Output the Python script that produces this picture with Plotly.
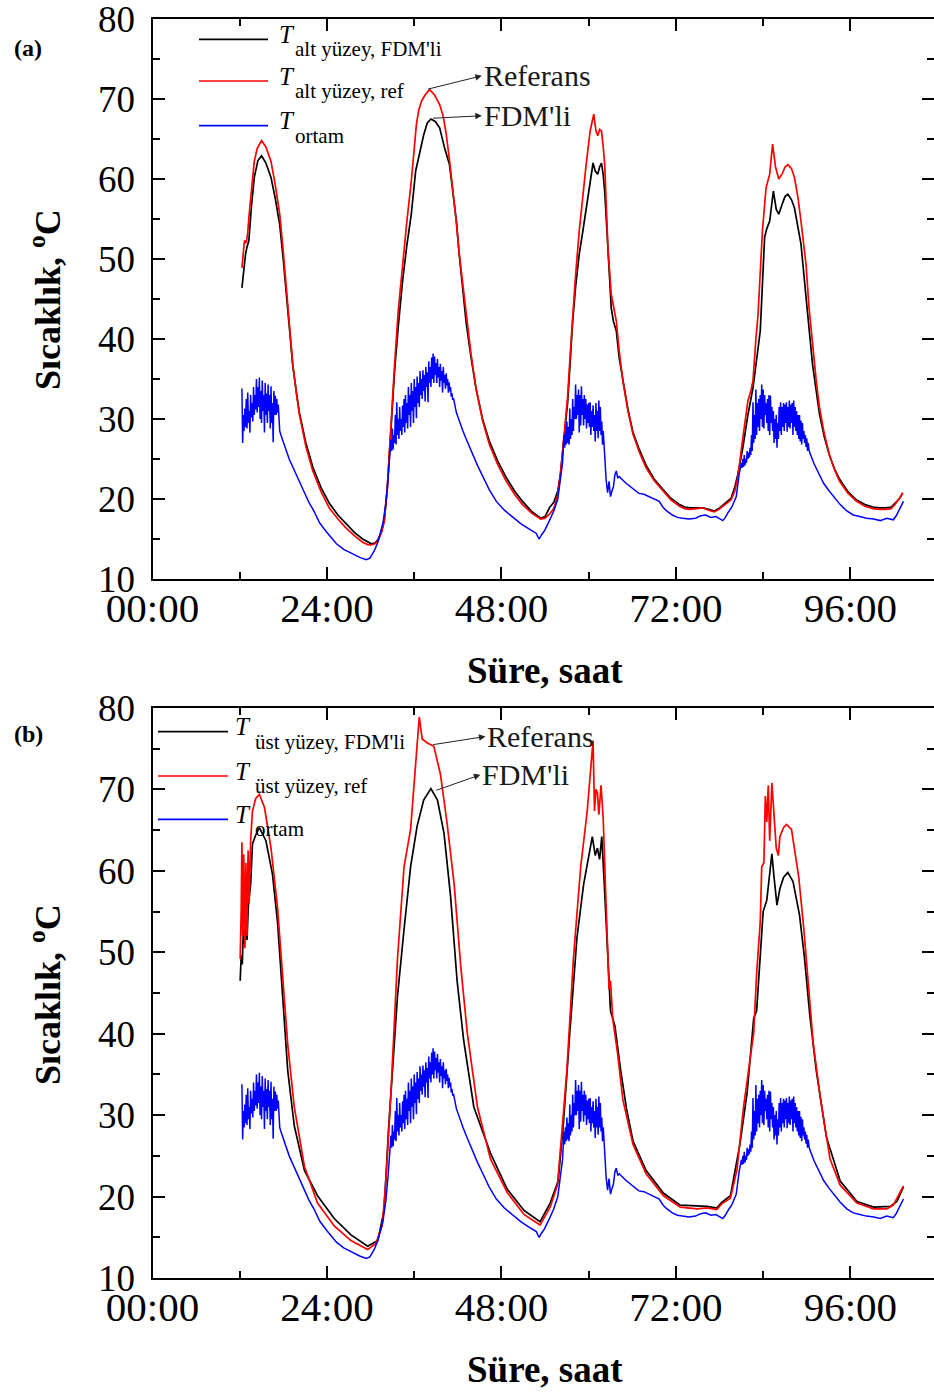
import plotly.graph_objects as go

W, H = 934, 1394

# ---------------- data (time in hours, temperature in °C) ----------------
amb_t = [12.3, 12.4, 12.5, 12.6, 12.7, 12.8, 12.9, 13.0, 13.1, 13.2, 13.3, 13.4, 13.5, 13.6,
         13.7, 13.8, 13.9, 14.0, 14.1, 14.2, 14.3, 14.4, 14.5, 14.6, 14.7, 14.8, 14.9, 15.0,
         15.1, 15.2, 15.3, 15.4, 15.5, 15.6, 15.7, 15.8, 15.9, 16.0, 16.1, 16.2, 16.3, 16.4,
         16.5, 16.6, 16.7, 16.8, 16.9, 17.0, 17.1, 17.2, 17.3, 17.4, 17.5,
         17.7, 18.8, 19.8, 20.7, 21.5, 22.2, 23.0, 24.0, 25.3, 26.3, 27.5, 28.5, 29.4, 29.9,
         30.5, 31.0, 31.7, 32.1, 32.4, 32.7,
         32.8, 32.9, 33.0, 33.1, 33.2, 33.3, 33.4, 33.5, 33.6, 33.7, 33.8, 33.9, 34.0, 34.1,
         34.2, 34.3, 34.4, 34.5, 34.6, 34.7, 34.8, 34.9, 35.0, 35.1, 35.2, 35.3, 35.4, 35.5,
         35.6, 35.7, 35.8, 35.9, 36.0, 36.1, 36.2, 36.3, 36.4, 36.5, 36.6, 36.7, 36.8, 36.9,
         37.0, 37.1, 37.2, 37.3, 37.4, 37.5, 37.6, 37.7, 37.8, 37.9, 38.0, 38.1, 38.2, 38.3,
         38.4, 38.5, 38.6, 38.7, 38.8, 38.9, 39.0, 39.1, 39.2, 39.3, 39.4, 39.5, 39.6, 39.7,
         39.8, 39.9, 40.0, 40.1, 40.2, 40.3, 40.4, 40.5, 40.6, 40.7, 40.8, 40.9, 41.0, 41.1,
         41.2, 41.3, 41.4,
         41.8, 42.2, 42.7, 43.15, 43.6, 44.1, 44.7, 45.4, 46.3, 47.3, 48.4, 49.6, 50.7, 51.9,
         52.4, 52.8, 53.0, 53.2, 53.5, 53.9, 54.6, 55.2, 55.75, 56.0, 56.4,
         56.6, 56.7, 56.8, 56.9, 57.0, 57.1, 57.2, 57.3, 57.4, 57.5, 57.6, 57.7, 57.8, 57.9,
         58.0, 58.1, 58.2, 58.3, 58.4, 58.5, 58.6, 58.7, 58.8, 58.9, 59.0, 59.1, 59.2, 59.3,
         59.4, 59.5, 59.6, 59.7, 59.8, 59.9, 60.0, 60.1, 60.2, 60.3, 60.4, 60.5, 60.6, 60.7,
         60.8, 60.9, 61.0, 61.1, 61.2, 61.3, 61.4, 61.5, 61.6, 61.7, 61.8, 61.9, 62.0, 62.1,
         62.2, 62.4, 62.6, 62.8, 63.0, 63.2, 63.4, 63.6, 63.8, 64.0, 64.2,
         65.1, 66.0, 66.9, 67.6, 68.3, 69.0, 69.7, 70.2, 70.6, 71.5, 72.2, 72.9, 73.8, 74.7,
         75.4, 76.1, 76.8, 77.5, 78.0, 78.45, 78.8, 79.1, 79.7, 80.3, 80.7,
         81.0, 81.1, 81.2, 81.3, 81.4, 81.5, 81.6, 81.7, 81.8, 81.9, 82.0, 82.1, 82.2, 82.3,
         82.4, 82.5, 82.6, 82.7, 82.8, 82.9, 83.0, 83.1, 83.2, 83.3, 83.4, 83.5, 83.6, 83.7,
         83.8, 83.9, 84.0, 84.1, 84.2, 84.3, 84.4, 84.5, 84.6, 84.7, 84.8, 84.9, 85.0, 85.1,
         85.2, 85.3, 85.4, 85.5, 85.6, 85.7, 85.8, 85.9, 86.0, 86.1, 86.2, 86.3, 86.4, 86.5,
         86.6, 86.7, 86.8, 86.9, 87.0, 87.1, 87.2, 87.3, 87.4, 87.5, 87.6, 87.7, 87.8, 87.9,
         88.0, 88.1, 88.2, 88.3, 88.4, 88.5, 88.6, 88.7, 88.8, 88.9, 89.0, 89.1, 89.2, 89.3,
         89.4, 89.5, 89.6, 89.7, 89.8, 89.9, 90.0, 90.1, 90.2, 90.3, 90.4,
         91.0, 91.6, 92.3, 93.0, 93.7, 94.6, 95.5, 96.4, 97.3, 98.2, 99.2, 100.1, 101.0,
         101.9, 102.3, 102.6, 103.0, 103.3]
amb_T = [33.8, 27.0, 30.5, 28.5, 31.3, 29.0, 32.5, 28.8, 33.3, 29.5, 31.0, 28.3, 33.0, 30.2,
         32.0, 29.7, 34.0, 30.5, 33.0, 31.2, 35.0, 30.8, 34.0, 31.5, 35.2, 30.0, 33.5, 29.5,
         34.8, 31.0, 33.0, 28.3, 34.5, 30.5, 33.2, 29.5, 34.3, 31.0, 33.0, 28.8, 34.1, 29.5,
         32.0, 27.1, 33.5, 30.5, 32.9, 30.5, 32.5, 30.8, 31.8, 29.0, 28.5,
         27.9, 25.0, 23.0, 21.2, 19.6, 18.5, 17.0, 15.8, 14.4, 13.7, 13.1, 12.7, 12.4, 12.6,
         13.5, 14.6, 17.0, 19.5, 22.5, 25.5,
         27.5, 26.0, 28.8, 26.2, 28.0, 27.0, 30.5, 26.8, 32.1, 28.0, 30.0, 27.5, 31.5, 28.5,
         30.0, 28.0, 31.7, 29.0, 32.5, 28.3, 33.0, 29.5, 32.0, 28.8, 34.0, 30.5, 33.0, 29.0,
         34.5, 31.0, 33.5, 29.5, 35.0, 31.5, 34.0, 30.1, 35.3, 32.0, 34.5, 31.5, 36.0, 33.0,
         35.0, 32.5, 36.1, 33.5, 35.5, 32.2, 36.5, 34.0, 35.8, 32.1, 37.2, 34.5, 36.5, 34.0,
         37.7, 35.0, 38.2, 34.5, 37.8, 35.5, 37.0, 34.5, 37.5, 35.2, 36.5, 34.0, 36.9, 34.8,
         36.0, 33.3, 36.5, 34.5, 35.5, 33.8, 35.7, 34.2, 35.0, 33.3, 34.6, 33.5, 34.0, 32.8,
         33.2, 32.4, 32.6,
         30.8, 29.7, 28.5, 27.5, 26.5, 25.4, 24.2, 22.9, 21.2, 19.7, 18.6, 17.7, 16.9, 16.2,
         15.9, 15.7, 15.3, 15.0, 15.5, 16.0, 17.3, 18.5, 20.0, 21.5, 24.5,
         28.0, 26.4, 28.5, 26.8, 29.7, 27.0, 29.0, 26.8, 31.3, 27.5, 30.0, 28.0, 32.5, 28.5,
         31.5, 30.0, 34.3, 30.0, 33.0, 30.5, 33.7, 28.3, 33.0, 29.2, 34.1, 30.5, 32.5, 29.2,
         33.0, 30.0, 32.5, 28.8, 31.8, 29.5, 32.0, 29.0, 32.1, 28.0, 31.0, 29.0, 31.7, 28.5,
         30.5, 27.2, 32.0, 28.5, 31.0, 27.6, 32.3, 28.5, 31.5, 28.0, 29.7, 26.8, 28.5, 26.0,
         25.5, 22.4, 20.8, 22.2, 20.3, 21.0, 21.5, 23.0, 23.5, 22.6, 22.8,
         22.0, 21.3, 20.7, 20.6, 20.3, 20.0, 19.7, 19.0, 18.6, 18.0, 17.7, 17.6, 17.5, 17.6,
         17.9, 18.0, 17.7, 17.8, 17.5, 17.3, 17.7, 18.2, 19.0, 20.3, 23.1,
         24.5, 23.9, 25.0, 24.0, 25.5, 24.2, 25.0, 24.5, 26.0, 25.0, 25.8, 25.2, 26.4, 25.5,
         28.0, 26.0, 32.1, 27.0, 30.5, 27.5, 33.7, 28.0, 32.0, 29.0, 32.5, 28.5, 33.0, 30.0,
         34.3, 29.0, 33.7, 28.8, 33.0, 30.5, 32.0, 29.5, 32.5, 28.5, 33.0, 28.0, 32.9, 29.5,
         31.5, 28.5, 31.0, 27.0, 30.0, 27.5, 30.5, 26.4, 29.5, 27.5, 31.5, 28.5, 32.1, 28.0,
         31.5, 29.0, 32.0, 28.5, 31.8, 29.5, 32.1, 28.4, 31.5, 29.0, 32.3, 28.8, 31.8, 29.5,
         32.0, 28.0, 32.3, 29.0, 31.5, 28.5, 31.0, 28.0, 30.5, 27.5, 30.5, 27.2, 29.8, 26.8,
         29.5, 27.5, 28.5, 27.0, 28.0, 26.5, 27.6, 26.0, 27.0, 26.2, 25.8,
         24.4, 23.2, 22.0, 21.1, 20.3, 19.3, 18.5, 18.0, 17.8, 17.6, 17.5, 17.3, 17.6,
         17.4, 17.9, 18.4, 19.2, 19.7]

# panel (a): bottom surface
a_fdm_t = [12.3, 12.5, 12.8, 13.0, 13.25, 13.6, 14.0, 14.5, 15.0, 15.6, 16.3, 16.9, 17.5, 18.0,
           18.4, 18.9, 19.3, 19.8, 20.2, 21.1, 22.05, 23.2, 24.3, 25.5, 26.6, 27.8, 28.9, 29.6,
           30.1, 30.6, 31.0, 31.5, 31.9, 32.3, 32.6, 33.0, 33.3, 33.8, 34.4, 35.0, 35.6, 36.2,
           36.7, 37.3, 37.8, 38.3, 38.9, 39.5, 40.2, 40.85, 41.3, 41.8, 42.2, 42.7, 43.15, 43.8,
           44.5, 45.4, 46.35, 47.5, 48.65, 49.8, 50.9, 52.2, 53.4, 54.0, 54.6, 55.2, 55.75, 56.1,
           56.45, 57.1, 57.45, 57.8, 58.2, 58.7, 59.2, 59.65, 60.2, 60.6, 60.9, 61.25, 61.5,
           61.76, 62.0, 62.2, 62.45, 62.65, 63.1, 63.4, 63.8, 64.2, 64.7, 65.4, 66.1, 67.0,
           67.9, 69.0, 70.2, 71.3, 72.5, 73.2, 73.9, 74.7, 75.7, 76.5, 77.3, 77.9, 78.45, 79.0,
           79.6, 80.1, 80.5, 81.2, 81.9, 82.6, 83.0, 83.6, 84.2, 84.5, 84.9, 85.4, 85.8, 86.15,
           86.6, 87.0, 87.4, 87.9, 88.3, 88.8, 89.2, 89.9, 90.3, 90.8, 91.3, 91.75, 92.4, 93.1,
           93.8, 94.5, 95.6, 96.8, 98.0, 99.1, 100.0, 100.9, 101.6, 102.1, 102.7, 103.2]
a_fdm_T = [46.4, 48.5, 50.6, 51.5, 52.25, 56.5, 60.2, 62.3, 62.9, 62.0, 60.2, 57.5, 54.3, 49.8,
           45.6, 41.0, 36.6, 33.3, 30.8, 27.0, 24.0, 21.4, 19.5, 18.0, 16.9, 15.8, 15.0, 14.6,
           14.4, 14.5, 14.9, 15.9, 17.5, 21.3, 25.5, 31.0, 36.0, 41.5, 47.25, 51.8, 55.6, 61.0,
           63.1, 65.5, 67.0, 67.5, 67.2, 66.4, 63.8, 61.8, 58.5, 54.75, 50.5, 45.6, 42.0, 37.8,
           33.8, 30.0, 27.2, 24.7, 22.7, 21.0, 19.7, 18.4, 17.6, 17.8, 18.9, 19.6, 21.0, 23.0,
           26.0, 32.0, 37.0, 42.25, 46.5, 50.6, 53.5, 56.4, 60.0, 62.0, 61.0, 60.6, 61.5,
           62.0, 60.5, 58.5, 54.5, 51.4, 43.9, 42.2, 41.0, 37.6, 34.75, 31.2, 28.3, 26.1,
           24.2, 22.5, 21.2, 20.1, 19.3, 19.0, 18.9, 18.9, 18.9, 18.7, 18.5, 18.8, 19.2, 19.6,
           20.1, 21.5, 23.0, 26.4, 30.5, 33.9, 37.0, 41.0, 52.7, 53.8, 54.75, 58.5, 56.2, 55.6,
           56.8, 57.8, 58.1, 57.4, 56.4, 54.0, 51.9, 45.2, 41.0, 36.8, 33.5, 30.6, 27.8, 25.5,
           23.8, 22.5, 21.0, 19.9, 19.3, 19.0, 18.9, 18.9, 19.0, 19.5, 20.0, 20.7]

a_ref_t = [12.3, 12.5, 12.65, 12.9, 13.1, 13.3, 13.6, 14.0, 14.4, 15.0, 15.6, 16.3, 16.9, 17.5,
           18.0, 18.4, 18.9, 19.3, 19.8, 20.2, 21.1, 22.05, 23.2, 24.3, 25.5, 26.6, 27.8, 28.9,
           29.6, 30.1, 30.6, 31.0, 31.5, 31.9, 32.3, 32.6, 33.0, 33.3, 33.8, 34.4, 35.0, 35.6,
           36.0, 36.3, 36.6, 37.0, 37.5, 38.1, 38.8, 39.5, 40.0, 40.4, 40.9, 41.3, 41.8, 42.2,
           42.7, 43.15, 43.8, 44.5, 45.4, 46.35, 47.5, 48.65, 49.8, 50.9, 52.2, 53.4, 54.0, 54.6,
           55.2, 55.75, 56.1, 56.45, 57.1, 57.45, 57.8, 58.2, 58.7, 59.2, 59.65, 60.2, 60.7,
           61.0, 61.25, 61.5, 61.76, 62.0, 62.2, 62.45, 62.65, 63.1, 63.4, 63.8, 64.2, 64.7,
           65.4, 66.1, 67.0, 67.9, 69.0, 70.2, 71.3, 72.5, 73.2, 73.9, 74.7, 75.7, 76.5, 77.3,
           77.9, 78.45, 79.0, 79.6, 80.1, 80.5, 81.2, 81.9, 82.3, 82.6, 83.0, 83.3, 83.9, 84.4,
           84.9, 85.3, 85.7, 86.15, 86.6, 87.0, 87.4, 87.9, 88.3, 88.8, 89.2, 89.9, 90.3, 90.8,
           91.3, 91.75, 92.4, 93.1, 93.8, 94.5, 95.6, 96.8, 98.0, 99.1, 100.0, 100.9, 101.6,
           102.1, 102.7, 103.2]
a_ref_T = [48.9, 51.5, 52.3, 52.0, 53.3, 55.6, 58.8, 62.2, 63.8, 64.8, 64.0, 62.2, 59.2, 55.6,
           50.8, 46.4, 41.5, 36.8, 33.2, 30.6, 26.6, 23.5, 20.9, 18.9, 17.5, 16.4, 15.4, 14.6,
           14.3, 14.25, 14.4, 14.75, 15.8, 17.25, 21.5, 26.4, 32.5, 36.8, 43.5, 49.3, 54.8, 59.75,
           64.0, 66.8, 68.5, 69.75, 70.5, 71.2, 70.5, 69.3, 67.8, 65.6, 62.0, 58.9, 54.5, 50.6,
           46.5, 43.1, 38.2, 33.9, 29.8, 26.8, 24.3, 22.25, 20.6, 19.3, 18.2, 17.5, 17.6, 18.1,
           18.8, 20.5, 23.0, 26.4, 32.7, 38.0, 43.1, 48.0, 53.5, 58.0, 61.8, 66.0, 68.1,
           66.0, 65.4, 66.2, 66.0, 64.0, 61.8, 56.0, 51.4, 45.6, 44.0, 42.25, 38.5, 34.75,
           31.0, 28.1, 25.8, 23.9, 22.3, 21.0, 19.9, 19.1, 18.8, 18.7, 18.8, 18.9, 18.6, 18.4,
           18.7, 19.1, 19.4, 19.9, 21.0, 22.6, 27.6, 32.25, 33.5, 34.75, 40.0, 43.1, 53.5, 58.9,
           60.6, 64.35, 61.5, 60.0, 60.6, 61.5, 61.8, 61.3, 60.2, 57.6, 54.75, 49.3, 44.0, 38.9,
           34.8, 31.4, 28.2, 25.6, 23.7, 22.25, 20.8, 19.75, 19.1, 18.8, 18.7, 18.7, 18.8,
           19.3, 20.0, 20.8]

# panel (b): top surface
b_fdm_t = [12.06, 12.2, 12.35, 12.5, 12.65, 12.8, 13.0, 13.2, 13.5, 13.75, 14.2, 14.7, 15.6,
           16.5, 17.2, 17.9, 18.6, 19.5, 20.9, 22.7, 25.0, 27.3, 29.6, 31.0, 31.85, 32.5, 33.7,
           34.6, 35.5, 36.4, 37.3, 38.3, 39.2, 40.1, 41.0, 41.9, 42.8, 44.2, 46.5, 48.8, 51.1,
           53.3, 54.7, 55.8, 56.5, 57.4, 58.4, 59.3, 60.0, 60.5, 60.9, 61.2, 61.5, 61.8, 62.1,
           62.5, 63.0, 63.6, 64.4, 65.2, 66.1, 67.9, 70.3, 72.6, 74.9, 76.3, 77.6, 78.3, 79.5,
           80.8, 81.8, 82.7, 83.1, 83.6, 84.0, 84.5, 84.9, 85.2, 85.5, 85.9, 86.3, 86.8, 87.4,
           88.1, 89.0, 89.7, 90.4, 91.3, 92.7, 94.6, 96.9, 99.2, 101.5, 102.4, 103.3]
b_fdm_T = [46.5, 49.6, 48.5, 52.8, 51.0, 53.0, 51.5, 56.0, 58.3, 63.3, 64.4, 65.3, 63.7,
           59.6, 53.7, 44.6, 35.5, 28.7, 23.2, 20.1, 17.3, 15.3, 13.9, 14.6, 18.3, 28.7, 44.6,
           52.8, 60.5, 65.5, 68.7, 70.1, 68.7, 64.6, 56.9, 46.5, 39.2, 31.0, 25.3, 20.9, 18.3,
           16.9, 19.2, 21.9, 28.7, 40.1, 51.9, 58.3, 61.9, 64.2, 61.9, 62.8, 61.4, 64.2, 59.2,
           51.5, 42.8, 41.0, 35.5, 30.8, 26.8, 23.2, 20.4, 18.95, 18.8, 18.8, 18.6, 19.3, 20.1,
           26.4, 32.8, 41.9, 42.8, 50.0, 55.0, 56.4, 59.6, 62.1, 59.2, 55.8, 57.8, 59.2, 59.8,
           58.7, 54.6, 49.2, 42.4, 35.5, 27.3, 21.9, 19.4, 18.7, 18.8, 19.4, 21.2]

b_ref_t = [12.06, 12.2, 12.3, 12.4, 12.55, 12.7, 12.85, 13.0, 13.15, 13.3, 13.5, 13.75, 14.2,
           14.7, 15.4, 16.3, 17.2, 17.9, 18.6, 19.5, 20.9, 22.7, 25.0, 27.3, 29.6, 30.7, 31.6,
           32.1, 32.8, 33.7, 34.6, 35.5, 36.2, 36.5, 36.7, 36.9, 37.1, 37.8, 38.7, 39.6, 40.5,
           41.5, 42.4, 43.3, 44.7, 46.5, 48.8, 51.1, 53.3, 54.7, 55.7, 56.3, 57.0, 57.9, 58.9,
           59.8, 60.2, 60.6, 60.8, 61.0, 61.2, 61.4, 61.7, 62.0, 62.3, 62.8, 63.0, 63.1, 63.3,
           64.0, 64.7, 66.1, 67.9, 70.3, 72.6, 74.9, 76.3, 77.6, 78.3, 79.5, 80.4, 81.3, 82.0,
           82.7, 83.1, 83.6, 83.8, 84.1, 84.3, 84.5, 84.7, 84.9, 85.2, 85.5, 85.8, 86.1, 86.3,
           86.8, 87.2, 87.9, 88.9, 89.6, 90.2, 90.9, 91.9, 93.2, 94.6, 96.9, 99.2, 101.0, 101.9,
           103.3]
b_ref_T = [49.2, 55.0, 63.5, 52.0, 62.0, 50.5, 61.0, 52.0, 62.5, 56.0, 63.7, 67.35, 68.9,
           69.4, 67.8, 62.8, 55.5, 46.9, 38.7, 31.0, 23.7, 19.2, 16.4, 14.6, 13.5, 14.2, 16.4,
           21.9, 32.8, 49.2, 60.5, 65.1, 72.8, 76.5, 78.9, 77.5, 76.2, 75.7, 75.3, 71.9, 66.0,
           58.3, 48.3, 40.1, 31.0, 24.6, 20.5, 17.8, 16.5, 18.7, 21.4, 27.8, 35.5, 49.2, 60.5,
           67.35, 71.9, 76.0, 67.35, 70.0, 69.6, 66.9, 70.5, 66.4, 58.3, 45.5, 46.5, 45.1, 41.9,
           37.4, 31.9, 26.4, 22.8, 20.1, 18.7, 18.5, 18.6, 18.4, 19.1, 19.8, 23.3, 31.0, 35.5,
           40.1, 47.35, 53.7, 60.5, 61.0, 69.2, 66.0, 70.5, 63.7, 70.8, 67.35, 62.8, 61.9, 64.2,
           65.3, 65.7, 65.1, 59.2, 52.8, 46.0, 38.7, 31.9, 24.6, 21.4, 19.2, 18.5, 18.5, 18.95,
           21.3]

x_tick_vals = [0, 24, 48, 72, 96]
x_tick_text = ["00:00", "24:00", "48:00", "72:00", "96:00"]
x_minor_vals = [12, 36, 60, 84]
y_tick_vals = [10, 20, 30, 40, 50, 60, 70, 80]
y_minor_vals = [15, 25, 35, 45, 55, 65, 75]

SERIF = "Liberation Serif"


def pxx(x):
    return x / W


def pxy(y):
    return 1 - y / H


fig = go.Figure()
panels = [
    ("x", "y", a_fdm_t, a_fdm_T, a_ref_t, a_ref_T, "alt yüzey"),
    ("x2", "y2", b_fdm_t, b_fdm_T, b_ref_t, b_ref_T, "üst yüzey"),
]
for xa, ya, ft, fT, rt, rT, surf in panels:
    fig.add_trace(go.Scatter(x=ft, y=fT, mode="lines", xaxis=xa, yaxis=ya,
                             name="T " + surf + ", FDM'li", showlegend=False,
                             line=dict(color="#000000", width=1.7)))
    fig.add_trace(go.Scatter(x=rt, y=rT, mode="lines", xaxis=xa, yaxis=ya,
                             name="T " + surf + ", ref", showlegend=False,
                             line=dict(color="#FF0000", width=1.7)))
    fig.add_trace(go.Scatter(x=amb_t, y=amb_T, mode="lines", xaxis=xa, yaxis=ya,
                             name="T ortam", showlegend=False,
                             line=dict(color="#0000FF", width=1.5)))

x_dom = [152.5 / W, 1.0]
common_x = dict(range=[0, 107.5], tickvals=x_tick_vals, ticktext=x_tick_text,
                ticks="inside", ticklen=12, tickwidth=1.5, tickcolor="black",
                showline=True, linecolor="black", linewidth=2, mirror="ticks",
                showgrid=False, zeroline=False, ticklabelstandoff=-8, automargin=False,
                ticklabeloverflow="allow",
                tickfont=dict(family=SERIF, size=41, color="black"),
                minor=dict(tickvals=x_minor_vals, ticks="inside", ticklen=7,
                           tickwidth=1.5, tickcolor="black"),
                domain=x_dom)
common_y = dict(range=[10, 80], tickvals=y_tick_vals,
                ticks="inside", ticklen=12, tickwidth=1.5, tickcolor="black",
                showline=True, linecolor="black", linewidth=2, mirror="ticks",
                showgrid=False, zeroline=False, ticklabelstandoff=8, automargin=False,
                ticklabeloverflow="allow",
                tickfont=dict(family=SERIF, size=37, color="black"),
                minor=dict(tickvals=y_minor_vals, ticks="inside", ticklen=7,
                           tickwidth=1.5, tickcolor="black"))

fig.update_layout(
    width=W, height=H, margin=dict(l=0, r=0, t=0, b=0, autoexpand=False),
    paper_bgcolor="white", plot_bgcolor="rgba(0,0,0,0)",
    xaxis=dict(common_x, anchor="y"),
    yaxis=dict(common_y, anchor="x", domain=[pxy(579), pxy(19)]),
    xaxis2=dict(common_x, anchor="y2"),
    yaxis2=dict(common_y, anchor="x2", domain=[pxy(1278), pxy(708)]),
)

ann = []
shapes = []


def text(x, y, s, size, xanchor="left", bold=False, italic=False, angle=0, color="black"):
    if bold:
        s = "<b>" + s + "</b>"
    if italic:
        s = "<i>" + s + "</i>"
    ann.append(dict(x=pxx(x), y=pxy(y), xref="paper", yref="paper", text=s,
                    showarrow=False, xanchor=xanchor, yanchor="middle", textangle=angle,
                    font=dict(family=SERIF, size=size, color=color)))


# axis titles and panel labels: (label, label_y, xtitle_y, ytitle_y)
for lab, ly_, xt_y, yt_y in [("(a)", 48, 670, 300), ("(b)", 734, 1369, 995)]:
    text(28, ly_, lab, 24, xanchor="center", bold=True)
    text(545, xt_y, "Süre, saat", 37, xanchor="center", bold=True)
    text(45, yt_y, "Sıcaklık, <sup>o</sup>C", 36, xanchor="center", bold=True, angle=-90)

# legends
legends = [
    (199, 268, 277, 293, [39.3, 81.0, 125.7],
     ["alt yüzey, FDM'li", "alt yüzey, ref", "ortam"]),
    (158, 228, 233, 253, [731.7, 776.0, 819.3],
     ["üst yüzey, FDM'li", "üst yüzey, ref", "ortam"]),
]
colors = ["#000000", "#FF0000", "#0000FF"]
for x0, x1, tx, sx, ys, subs in legends:
    for yy, sub, c in zip(ys, subs, colors):
        shapes.append(dict(type="line", xref="paper", yref="paper",
                           x0=pxx(x0), x1=pxx(x1), y0=pxy(yy), y1=pxy(yy),
                           line=dict(color=c, width=1.7)))
        text(tx, yy - 5, "T", 25, italic=True)
        text(sx, yy + 10, sub, 21)

# labelled arrows: arrow starts at a curve peak and points to its label
arrow_specs = [
    ("x", "y", 37.95, 71.25, 45.3, 72.9, "Referans"),
    ("x", "y", 38.6, 67.6, 45.3, 67.9, "FDM'li"),
    ("x2", "y2", 38.6, 75.5, 45.8, 76.5, "Referans"),
    ("x2", "y2", 39.05, 69.9, 45.1, 71.8, "FDM'li"),
]
for xr, yr, px0, py0, lx, ly, lab in arrow_specs:
    ann.append(dict(x=px0, y=py0, xref=xr, yref=yr, ax=lx, ay=ly, axref=xr, ayref=yr,
                    text=lab, showarrow=True, arrowside="start", startarrowhead=2,
                    startarrowsize=1.3, arrowwidth=1, arrowcolor="#222222",
                    xanchor="left", yanchor="middle",
                    font=dict(family=SERIF, size=30, color="#1a1a1a")))

fig.update_layout(annotations=ann, shapes=shapes)
fig.write_html("out.html")
